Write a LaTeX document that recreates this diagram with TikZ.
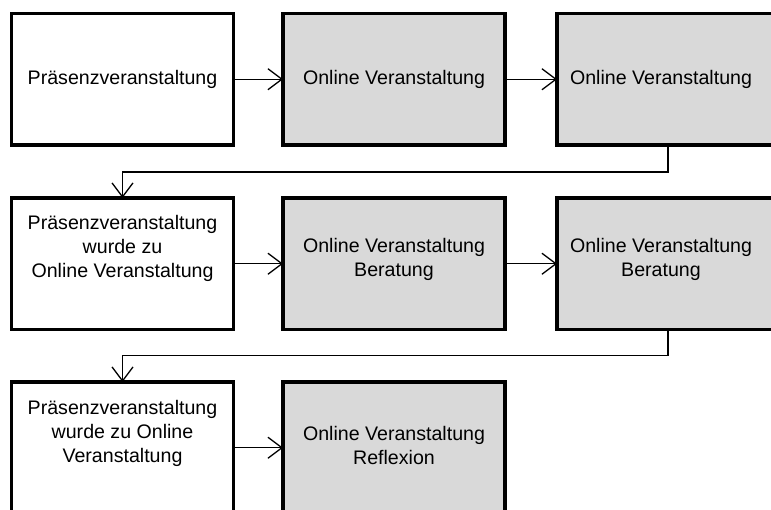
\documentclass[tikz,border=0pt]{standalone}
\usepackage{fontspec}
\setmainfont{Liberation Sans}
\usetikzlibrary{arrows.meta}
\definecolor{boxgray}{HTML}{D9D9D9}
\begin{document}
\begin{tikzpicture}[x=1pt,y=-1pt,
  box/.style={draw=black, line width=3.5pt, minimum width=222pt, minimum height=131.5pt, inner sep=0pt, outer sep=0pt, anchor=north west},
  plainbox/.style={box, fill=white},
  graybox/.style={box, fill=boxgray},
  boxtext/.style={align=center, font=\fontsize{19.6}{24}\selectfont, inner sep=0pt},
  conn/.style={line width=1.3pt, -{Straight Barb[length=14pt,width=21pt,line width=1.3pt]}},
]
\useasboundingbox (0,0) rectangle (771,510);
\clip (0,0) rectangle (771,510);
% row 1
\node[plainbox] (b1) at (11.5,13.5) {};
\node[graybox]  (b2) at (283,13.5) {};
\node[graybox]  (b3) at (557,13.5) {};
% row 2
\node[plainbox] (b4) at (11.5,198) {};
\node[graybox]  (b5) at (283,198) {};
\node[graybox]  (b6) at (557,198) {};
% row 3
\node[plainbox] (b7) at (11.5,382) {};
\node[graybox]  (b8) at (283,382) {};
% texts
\node[boxtext] (t1) at (b1.center) {Präsenzveranstaltung};
\node[boxtext] (t2) at (b2.center) {Online Veranstaltung};
\node[boxtext] (t3) at ([xshift=-7pt]b3.center) {Online Veranstaltung};
\node[boxtext] (t4) at ([yshift=15pt]b4.center) {Präsenzveranstaltung\\wurde zu\\Online Veranstaltung};
\node[boxtext] (t5) at ([yshift=4pt]b5.center) {Online Veranstaltung\\Beratung};
\node[boxtext] (t6) at ([xshift=-7pt,yshift=4pt]b6.center) {Online Veranstaltung\\Beratung};
\node[boxtext] (t7) at ([yshift=14pt]b7.center) {Präsenzveranstaltung\\wurde zu Online\\Veranstaltung};
\node[boxtext] (t8) at ([yshift=2pt]b8.center) {Online Veranstaltung\\Reflexion};
% connectors
\draw[conn] (b1.east) -- (b2.west);
\draw[conn] (b2.east) -- (b3.west);
\draw[conn] (b3.south) -- ++(0,27) -| (b4.north);
\draw[conn] (b4.east) -- (b5.west);
\draw[conn] (b5.east) -- (b6.west);
\draw[conn] (b6.south) -- ++(0,26) -| (b7.north);
\draw[conn] (b7.east) -- (b8.west);
\end{tikzpicture}
\end{document}
